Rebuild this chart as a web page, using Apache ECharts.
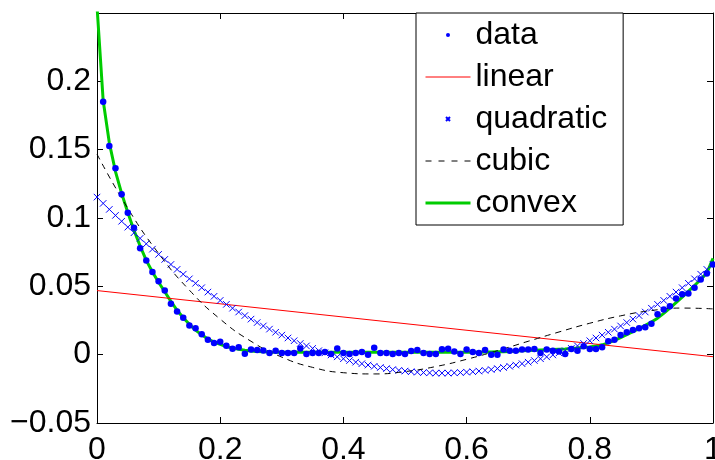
<!DOCTYPE html>
<html>
<head>
<meta charset="utf-8">
<script src="https://cdn.jsdelivr.net/npm/echarts@6/dist/echarts.min.js"></script>
<style>html,body{margin:0;padding:0;background:#fff}#c{width:715px;height:460px}</style>
</head>
<body>
<div id="c"></div>
<script>
// x grid: 0 to 1 in steps of 0.01 (101 samples)
const nSamples = 101;
// measured data (blue dots); first sample lies above the axis limit
const dataY = [0.27,0.185,0.1527,0.1364,0.1173,0.1039,0.0929,0.0779,0.0689,0.0604,
  0.0538,0.0469,0.0372,0.0315,0.0271,0.0213,0.0193,0.0149,0.011,0.0086,
  0.0095,0.0066,0.0044,0.0054,0.0007,0.0037,0.0035,0.003,0.0012,0.0029,
  0.0012,0.0012,0.0012,0.0046,0.0005,0.0012,0.0012,0.002,0.0005,0.0046,
  0.0012,0.0005,0.0012,0.002,0.0,0.0051,0.0012,0.0012,0.0005,0.0012,
  0.0005,0.0027,0.0034,0.0012,0.0005,0.0005,0.0039,0.0044,0.0024,0.0005,
  0.0037,0.002,0.0012,0.0035,0.0,0.0,0.0037,0.0029,0.0029,0.0037,
  0.0037,0.0042,0.0012,0.0037,0.0029,0.0024,0.0005,0.0042,0.0029,0.0061,
  0.0042,0.0042,0.0054,0.0098,0.011,0.0144,0.0164,0.0181,0.0193,0.02,
  0.0227,0.0295,0.033,0.0354,0.0411,0.0442,0.0447,0.0489,0.055,0.0594,0.066];
// linear fit (endpoints at x = 0 and x = 1)
const linearX = [0, 1];
const linearY = [0.0469, -0.0015];
// quadratic fit (blue x markers) at every sample
const quadY = [0.1153,0.1107,0.1063,0.1019,0.0976,0.0933,0.0892,0.0851,0.0811,0.0772,
  0.0734,0.0697,0.0660,0.0624,0.0589,0.0555,0.0522,0.0490,0.0458,0.0427,
  0.0397,0.0368,0.0340,0.0312,0.0286,0.0260,0.0235,0.0210,0.0187,0.0164,
  0.0143,0.0122,0.0102,0.0082,0.0064,0.0046,0.0029,0.0013,-0.0002,-0.0016,
  -0.0030,-0.0043,-0.0055,-0.0066,-0.0076,-0.0085,-0.0094,-0.0102,-0.0109,-0.0115,
  -0.0120,-0.0125,-0.0128,-0.0131,-0.0133,-0.0135,-0.0135,-0.0135,-0.0133,-0.0131,
  -0.0128,-0.0125,-0.0120,-0.0115,-0.0109,-0.0102,-0.0094,-0.0085,-0.0076,-0.0066,
  -0.0055,-0.0043,-0.0030,-0.0016,-0.0002,0.0013,0.0029,0.0046,0.0064,0.0082,
  0.0102,0.0122,0.0143,0.0164,0.0187,0.0210,0.0235,0.0260,0.0286,0.0312,
  0.0340,0.0368,0.0397,0.0427,0.0458,0.0490,0.0522,0.0555,0.0589,0.0624,0.0660];
// cubic fit (dashed) read every 0.05
const cubicX = [0,0.05,0.1,0.15,0.2,0.25,0.3,0.35,0.4,0.45,0.5,0.55,0.6,0.65,0.7,0.75,0.8,0.85,0.9,0.95,1];
const cubicY = [0.1467,0.1071,0.0741,0.0472,0.0260,0.0098,-0.0018,-0.0093,-0.0132,-0.0141,
  -0.0124,-0.0087,-0.0034,0.0029,0.0098,0.0166,0.0230,0.0284,0.0323,0.0341,0.0335];
// convex fit (green) at every sample
const convexY = [0.255,0.186,0.155,0.134,0.118,0.104,0.091,0.0795,0.069,0.0605,
  0.053,0.046,0.039,0.0325,0.027,0.0222,0.018,0.0145,0.0115,0.0092,
  0.0075,0.006,0.0048,0.0039,0.0032,0.0027,0.0023,0.0021,0.0019,0.0018,
  0.0018,0.0018,0.0018,0.0018,0.0018,0.0018,0.0018,0.0018,0.0018,0.0018,
  0.0018,0.0018,0.0018,0.0018,0.0018,0.0018,0.0018,0.0018,0.0018,0.0018,
  0.0018,0.0018,0.0018,0.0018,0.0018,0.0018,0.0018,0.0018,0.0018,0.0018,
  0.0018,0.0018,0.0018,0.0019,0.002,0.0021,0.0022,0.0024,0.0026,0.0028,
  0.003,0.0032,0.0034,0.0036,0.0038,0.004,0.0042,0.0045,0.0048,0.0052,
  0.0057,0.0063,0.0072,0.0086,0.0104,0.0125,0.0147,0.0169,0.0191,0.0214,
  0.0239,0.0267,0.0302,0.034,0.038,0.0421,0.0463,0.0506,0.055,0.0597,0.0705];
const xTicks = [0, 0.2, 0.4, 0.6, 0.8, 1];
const yTicks = [-0.05, 0, 0.05, 0.1, 0.15, 0.2];
const legendNames = ['data','linear','quadratic','cubic','convex'];

const xs = Array.from({length: nSamples}, (_, i) => i / (nSamples - 1));
const pair = (xArr, yArr) => yArr.map((y, i) => [xArr[i], y]);
const FONT = '"Liberation Sans", Arial, Helvetica, sans-serif';
const xFmt = v => { const r = Math.round(v*1000)/1000; return xTicks.some(t=>Math.abs(t-r)<1e-9) ? String(r) : ''; };
const yFmt = v => { const r = Math.round(v*1000)/1000; if (!yTicks.some(t=>Math.abs(t-r)<1e-9)) return ''; return r < 0 ? '\u2212' + String(-r) : String(r); };

const legendLineStyles = {
  linear: {color: '#ff0000', width: 1},
  cubic: {color: '#000', width: 1, type: [6, 7]},
  convex: {color: '#00cc00', width: 3}
};

const chart = echarts.init(document.getElementById('c'), null, {renderer: 'canvas'});
const tickStyle = {show: true, inside: true, length: 6, lineStyle: {color: '#000', width: 1}};
const axisLineStyle = {show: true, onZero: false, lineStyle: {color: '#000', width: 1}};
chart.setOption({
  animation: false,
  backgroundColor: '#fff',
  grid: {left: 97, right: 2, top: 13, bottom: 37, show: false, containLabel: false, outerBoundsMode: 'none'},
  xAxis: [
    {type: 'value', min: 0, max: 1, interval: 0.2, position: 'bottom',
     axisLine: axisLineStyle, axisTick: tickStyle, splitLine: {show: false},
     axisLabel: {show: true, formatter: xFmt, fontSize: 32, fontFamily: FONT, color: '#000', margin: 11, showMaxLabel: true, showMinLabel: true}},
    {type: 'value', min: 0, max: 1, interval: 0.2, position: 'top',
     axisLine: axisLineStyle, axisTick: tickStyle, splitLine: {show: false}, axisLabel: {show: false}}
  ],
  yAxis: [
    {type: 'value', min: -0.05, max: 0.25, interval: 0.05, position: 'left',
     axisLine: axisLineStyle, axisTick: tickStyle, splitLine: {show: false},
     axisLabel: {show: true, formatter: yFmt, fontSize: 32, fontFamily: FONT, color: '#000', margin: 6, padding: [4, 0, 0, 0], showMaxLabel: true, showMinLabel: true}},
    {type: 'value', min: -0.05, max: 0.25, interval: 0.05, position: 'right',
     axisLine: axisLineStyle, axisTick: tickStyle, splitLine: {show: false}, axisLabel: {show: false}}
  ],
  legend: {
    orient: 'vertical', left: 416, top: 13,
    data: legendNames.map(n => legendLineStyles[n]
      ? {name: n, itemStyle: {opacity: 0}, lineStyle: legendLineStyles[n]}
      : {name: n}),
    selectedMode: false,
    itemWidth: 45, itemHeight: 4, itemGap: 10,
    padding: [6, 16, 6, 8],
    backgroundColor: '#fff', borderColor: '#000', borderWidth: 1, borderRadius: 0,
    textStyle: {fontSize: 32, lineHeight: 32, fontFamily: FONT, color: '#000'}
  },
  series: [
    {name: 'convex', type: 'line', data: pair(xs, convexY), symbol: 'none', clip: true,
     lineStyle: {color: '#00cc00', width: 3}, itemStyle: {color: '#00cc00'}, z: 2},
    {name: 'linear', type: 'line', data: pair(linearX, linearY), symbol: 'none', clip: true,
     lineStyle: {color: '#ff0000', width: 1}, itemStyle: {color: '#ff0000'}, z: 3},
    {name: 'quadratic', type: 'scatter', data: pair(xs, quadY), clip: true,
     symbol: 'path://M0,0L10,10M10,0L0,10', symbolSize: 6.5,
     itemStyle: {color: 'rgba(0,0,0,0)', borderColor: '#0000ff', borderWidth: 1, opacity: 1}, z: 4},
    {name: 'cubic', type: 'line', data: pair(cubicX, cubicY), symbol: 'none', smooth: true, clip: true,
     lineStyle: {color: '#000', width: 1, type: [6, 5]}, itemStyle: {color: '#000'}, z: 5},
    {name: 'data', type: 'scatter', data: pair(xs, dataY), clip: true,
     symbol: 'circle', symbolSize: 6.5, itemStyle: {color: '#0000ff', opacity: 1}, z: 6}
  ]
});
</script>
</body>
</html>
